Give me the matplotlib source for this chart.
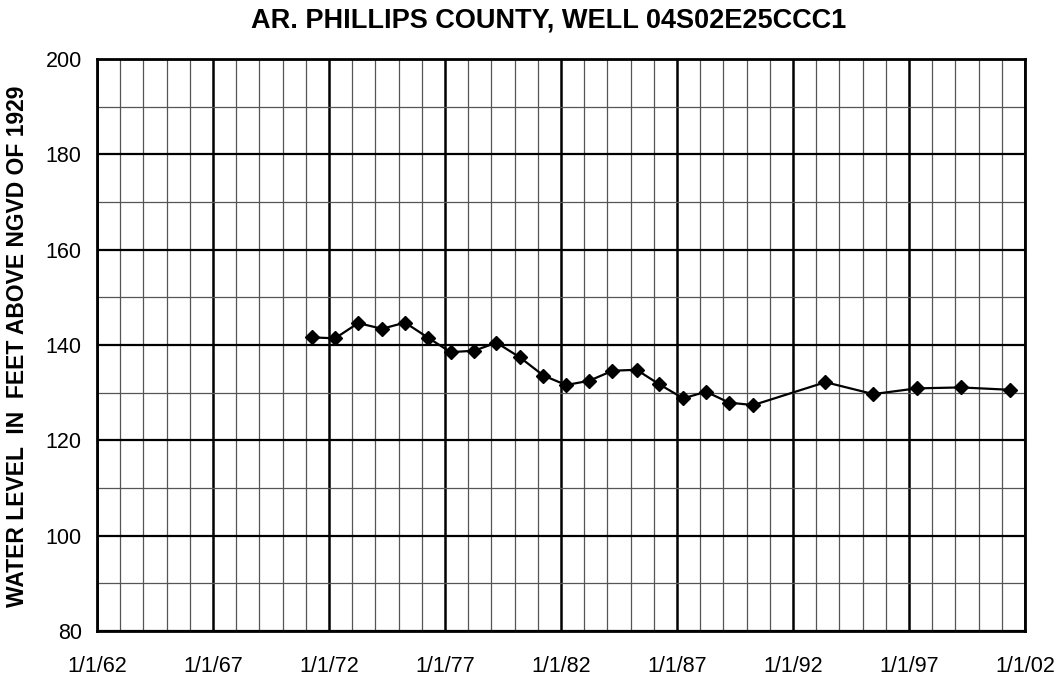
import matplotlib
matplotlib.use("Agg")
import matplotlib.pyplot as plt
from datetime import datetime
import numpy as np

plt.rcParams['font.family'] = ['Liberation Sans', 'DejaVu Sans']

years = [1971.27, 1972.26, 1973.26, 1974.28, 1975.28, 1976.28, 1977.24, 1978.26,
         1979.22, 1980.23, 1981.24, 1982.22, 1983.22, 1984.22, 1985.26, 1986.22,
         1987.27, 1988.25, 1989.25, 1990.29, 1993.40, 1995.46, 1997.33, 1999.24,
         2001.35]
levels = [141.6, 141.4, 144.6, 143.4, 144.7, 141.5, 138.5, 138.8,
          140.5, 137.4, 133.6, 131.6, 132.5, 134.6, 134.8, 131.8,
          128.8, 130.2, 127.9, 127.4, 132.2, 129.7, 130.9, 131.1,
          130.6]
tick_years = [1962, 1967, 1972, 1977, 1982, 1987, 1992, 1997, 2002]
tick_labels = ["1/1/62", "1/1/67", "1/1/72", "1/1/77", "1/1/82", "1/1/87",
               "1/1/92", "1/1/97", "1/1/02"]
title = "AR. PHILLIPS COUNTY, WELL 04S02E25CCC1"
ylabel = "WATER LEVEL  IN  FEET ABOVE NGVD OF 1929"


def yr2date(y):
    yi = int(np.floor(y))
    start = datetime(yi, 1, 1)
    end = datetime(yi + 1, 1, 1)
    return start + (end - start) * (y - yi)


dates = [yr2date(y) for y in years]

fig = plt.figure(figsize=(10.62, 6.75), dpi=100)
ax = fig.add_axes([97 / 1062, 1 - 631 / 675, (1025 - 97) / 1062, (631 - 59) / 675])

ax.set_xlim(datetime(1962, 1, 1), datetime(2002, 1, 1))
ax.set_ylim(80, 200)

# grid lines
for yr in range(1962, 2003):
    d = datetime(yr, 1, 1)
    if yr in tick_years:
        ax.axvline(d, color='black', lw=1.8, zorder=1)
    else:
        ax.axvline(d, color='#555555', lw=0.9, zorder=1)
for v in range(80, 201, 10):
    if v % 20 == 0:
        ax.axhline(v, color='black', lw=1.6, zorder=1)
    else:
        ax.axhline(v, color='#555555', lw=0.9, zorder=1)

ax.plot(dates, levels, color='black', lw=1.6, marker='D', markersize=7.5,
        markerfacecolor='black', markeredgecolor='black', zorder=3)

ax.set_xticks([datetime(y, 1, 1) for y in tick_years])
ax.set_xticklabels(tick_labels)
ax.set_yticks(range(80, 201, 20))
ax.tick_params(axis='both', length=0, labelsize=15.5)
ax.tick_params(axis='x', pad=18)
ax.tick_params(axis='y', pad=11)

for s in ax.spines.values():
    s.set_linewidth(2.0)
    s.set_color('black')

fig.text(548.5 / 1062, 1 - 21 / 675, title, fontsize=19.5, fontweight='bold',
         ha='center', va='center')
fig.text(18 / 1062, 1 - 346.5 / 675, ylabel, fontsize=16.5, fontweight='bold',
         ha='center', va='center', rotation=90)

fig.savefig("out.png", dpi=100, facecolor='white')
